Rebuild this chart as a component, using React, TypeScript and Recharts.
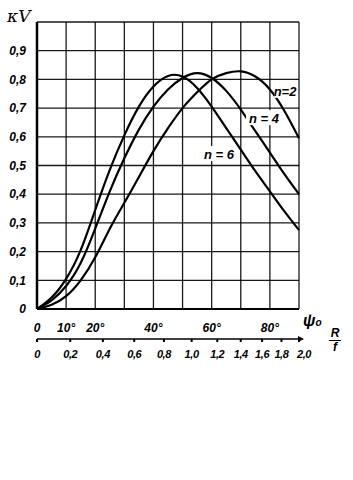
import { LineChart, Line, XAxis, YAxis, CartesianGrid, ReferenceDot } from "recharts"

// angle psi0 in degrees
const psi = [0, 5, 10, 15, 20, 25, 30, 35, 40, 45, 50, 55, 60, 65, 70, 75, 80, 85, 90]
const n2 = [0, 0.015, 0.045, 0.1, 0.18, 0.28, 0.37, 0.46, 0.55, 0.63, 0.7, 0.755, 0.8, 0.822, 0.828, 0.81, 0.765, 0.69, 0.595]
const n4 = [0, 0.03, 0.08, 0.16, 0.28, 0.41, 0.525, 0.625, 0.705, 0.765, 0.805, 0.822, 0.805, 0.76, 0.695, 0.62, 0.545, 0.47, 0.4]
const n6 = [0, 0.04, 0.105, 0.205, 0.345, 0.485, 0.605, 0.705, 0.775, 0.812, 0.81, 0.77, 0.705, 0.63, 0.555, 0.48, 0.41, 0.34, 0.275]

const yTicks = [0, 0.1, 0.2, 0.3, 0.4, 0.5, 0.6, 0.7, 0.8, 0.9, 1.0]
const psiTicks = [0, 10, 20, 30, 40, 50, 60, 70, 80, 90]
const psiLabels = ["0", "10°", "20°", "", "40°", "", "60°", "", "80°", ""]
const rfValues = [0, 0.2, 0.4, 0.6, 0.8, 1.0, 1.2, 1.4, 1.6, 1.8, 2.0]
const rfLabels = ["0", "0,2", "0,4", "0,6", "0,8", "1,0", "1,2", "1,4", "1,6", "1,8", "2,0"]

const curveNames = ["n=2", "n = 4", "n = 6"]
const curvePsi = [85.2, 78, 62.5]
const curveK = [0.76, 0.665, 0.54]

const data = psi.map((p, i) => ({ psi: p, n2: n2[i], n4: n4[i], n6: n6[i] }))

// R/f scale: psi0 = 2 * arctan(R / 2f)
const rfToPsi = (r: number) => (2 * Math.atan(r / 2) * 180) / Math.PI

const font = "'Liberation Sans', Arial, sans-serif"
const tickStyle = { fontFamily: font, fontStyle: "italic", fontWeight: 700, fontSize: 12, fill: "#000" }

const yFmt = (v: number) => (v === 0 ? "0" : v >= 1 ? "" : v.toFixed(1).replace(".", ","))

const RfTick = ({ x, y, index }: any) => {
  const last = index === rfLabels.length - 1
  return (
    <g>
      <text x={x + (last ? 5 : 0)} y={y + 10} textAnchor="middle" style={{ ...tickStyle, fontSize: 11, letterSpacing: -0.4 }}>
        {rfLabels[index]}
      </text>
      {last && <path d={`M${x - 1},${y - 12} L${x + 5},${y - 9} L${x - 1},${y - 6} Z`} fill="#000" />}
    </g>
  )
}

export default function App() {
  return (
    <div style={{ position: "absolute", left: 0, top: 0, width: 353, height: 480, background: "#fff", fontFamily: font }}>
      <LineChart width={353} height={480} data={data} margin={{ top: 22, right: 54, left: 0, bottom: 111 }}>
        <CartesianGrid stroke="#000" strokeWidth={1.3} strokeOpacity={0.9} />
        <XAxis
          dataKey="psi"
          type="number"
          domain={[0, 90]}
          ticks={psiTicks}
          tickFormatter={(v, i) => psiLabels[i]}
          height={30}
          tickLine={false}
          tickMargin={8}
          axisLine={{ stroke: "#000", strokeWidth: 2 }}
          tick={tickStyle}
          interval={0}
        />
        <XAxis
          xAxisId="rf"
          dataKey="psi"
          type="number"
          domain={[0, 90]}
          allowDataOverflow
          ticks={rfValues.map(rfToPsi)}
          height={30}
          tickSize={3}
          tickMargin={6}
          axisLine={{ stroke: "#000", strokeWidth: 1.5 }}
          tickLine={{ stroke: "#000", strokeWidth: 2 }}
          tick={<RfTick />}
          interval={0}
        />
        <YAxis
          type="number"
          domain={[0, 1]}
          ticks={yTicks}
          tickFormatter={yFmt}
          width={37}
          tickLine={false}
          tickMargin={5}
          axisLine={{ stroke: "#000", strokeWidth: 2.5 }}
          tick={tickStyle}
          interval={0}
        />
        <Line type="natural" dataKey="n2" stroke="#000" strokeWidth={2.2} dot={false} isAnimationActive={false} />
        <Line type="natural" dataKey="n4" stroke="#000" strokeWidth={2.2} dot={false} isAnimationActive={false} />
        <Line type="natural" dataKey="n6" stroke="#000" strokeWidth={2.2} dot={false} isAnimationActive={false} />
        {curveNames.map((name, i) => (
          <ReferenceDot
            key={name}
            x={curvePsi[i]}
            y={curveK[i]}
            r={0}
            ifOverflow="visible"
            shape={(p: any) => (
              <g>
                <rect x={p.cx - name.length * 3.6} y={p.cy - 8} width={name.length * 7.2} height={15} fill="#fff" />
                <text x={p.cx} y={p.cy + 5} textAnchor="middle" style={{ ...tickStyle, fontSize: 13 }}>
                  {name}
                </text>
              </g>
            )}
          />
        ))}
      </LineChart>
      <div style={{ position: "absolute", left: 7, top: 6, fontSize: 17, fontStyle: "italic", fontFamily: "'DejaVu Serif', serif" }}>κV</div>
      <div style={{ position: "absolute", left: 303, top: 312, fontSize: 16, fontStyle: "italic", fontWeight: 700 }}>
        ψ<span style={{ fontSize: 10 }}>o</span>
      </div>
      <div style={{ position: "absolute", left: 329, top: 327, width: 12, textAlign: "center", fontSize: 12, fontStyle: "italic", fontWeight: 700, lineHeight: "13px" }}>
        <div style={{ borderBottom: "1.5px solid #000" }}>R</div>
        <div>f</div>
      </div>
    </div>
  )
}
